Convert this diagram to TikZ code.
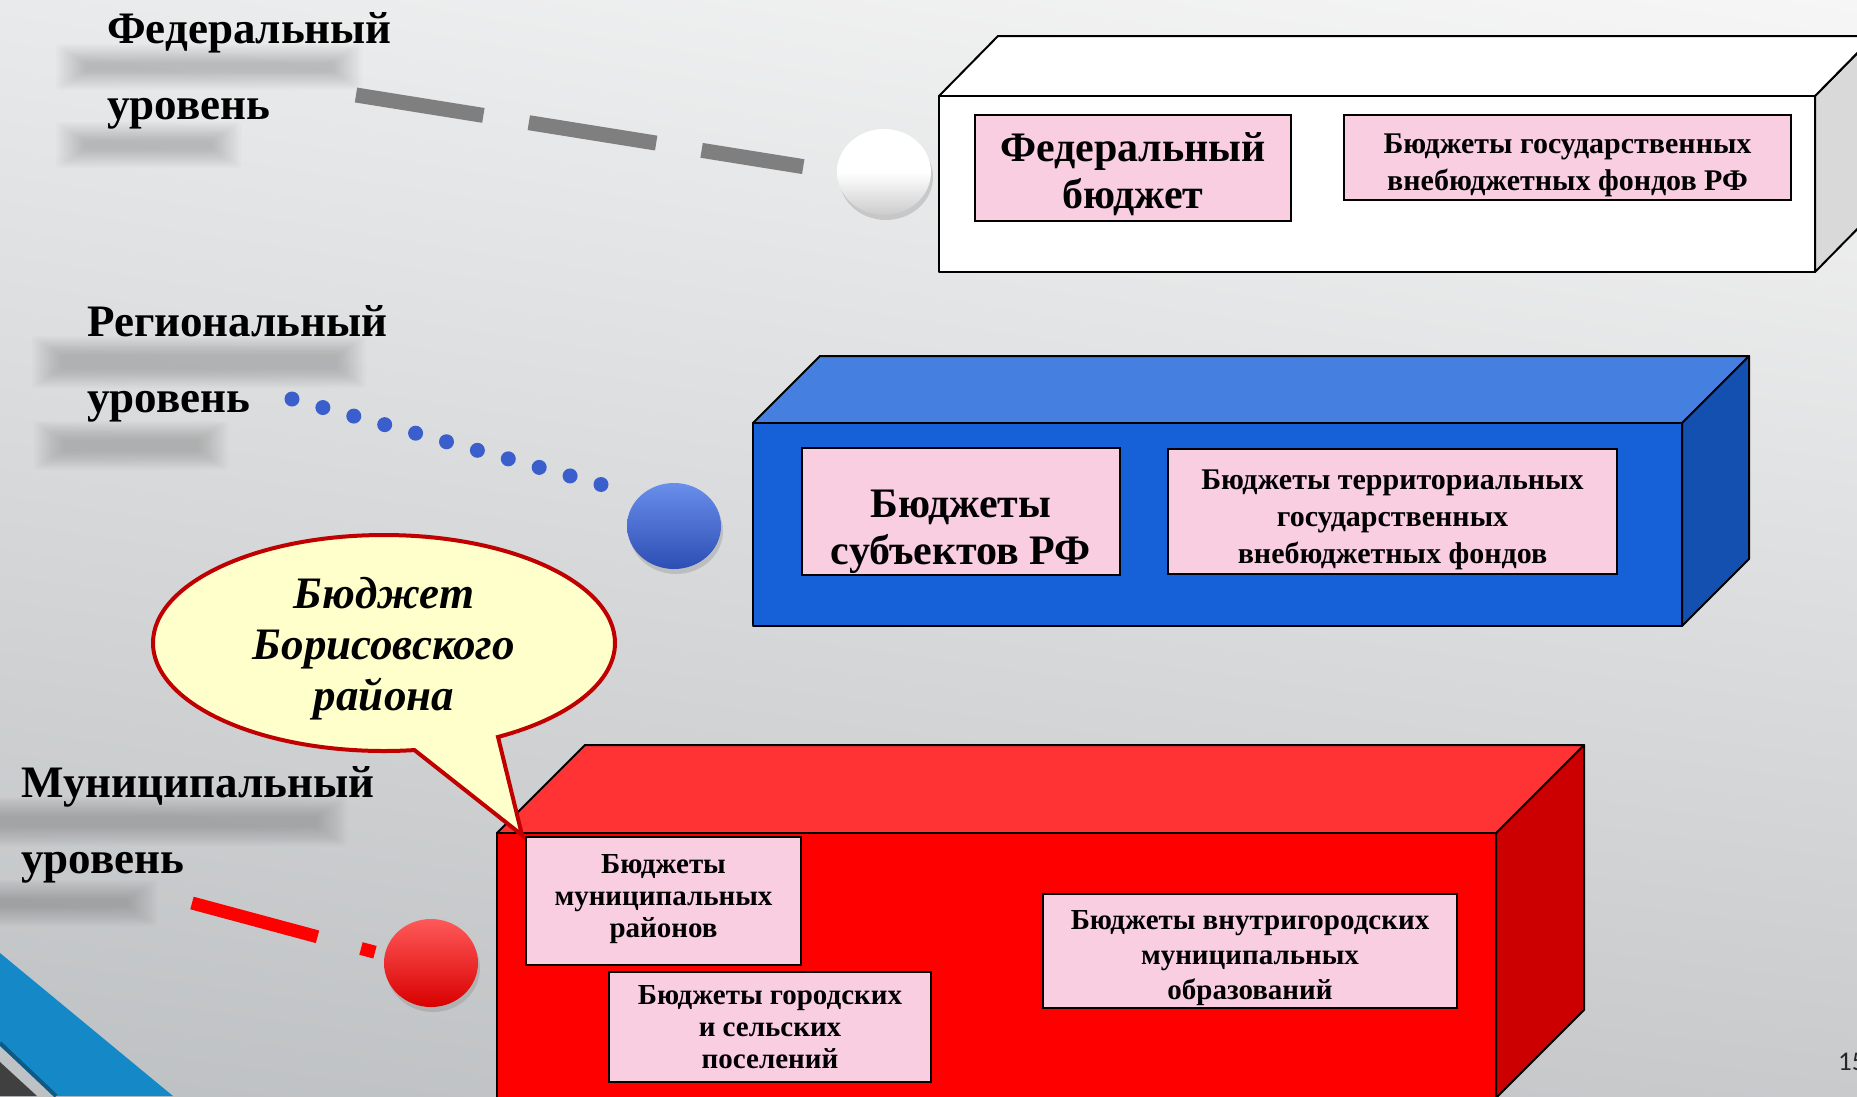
\documentclass[tikz,border=0pt]{standalone}
\usepackage{fontspec}
\setmainfont{Liberation Serif}
\newfontfamily\numfont{Carlito}
\usetikzlibrary{positioning}
\usetikzlibrary{calc}
\usetikzlibrary{shadows}
\usetikzlibrary{shadings}
\usetikzlibrary{shapes.callouts}
\usepgflibrary{shapes.geometric}

\definecolor{bgul}{RGB}{233,234,235}
\definecolor{bgur}{RGB}{246,246,246}
\definecolor{bgll}{RGB}{190,193,195}
\definecolor{bglr}{RGB}{200,202,204}
\definecolor{pinkbox}{RGB}{249,206,225}
\definecolor{fedside}{RGB}{217,217,217}
\definecolor{fedgray}{RGB}{127,127,127}
\definecolor{regfront}{RGB}{22,96,216}
\definecolor{regtop}{RGB}{69,128,224}
\definecolor{regside}{RGB}{20,80,176}
\definecolor{regdot}{RGB}{58,95,205}
\definecolor{muntop}{RGB}{255,51,51}
\definecolor{munside}{RGB}{204,0,0}
\definecolor{calloutred}{RGB}{192,0,0}
\definecolor{calloutfill}{RGB}{255,255,204}
\definecolor{cornerblue}{RGB}{21,137,200}
\definecolor{cornerdark}{RGB}{13,90,135}
\definecolor{cornergray}{RGB}{64,64,64}
\definecolor{pagegray}{RGB}{38,38,38}

\newcommand{\blurbar}[4]{%
  \foreach \k in {0,...,11} {
    \fill[black, opacity=0.017, rounded corners=3pt] ($(#1,#2)+(\k*2.6,\k*1.7)$) rectangle ($(#3,#4)+(-\k*2.6,-\k*1.7)$) ;
  }%
}

\begin{document}
\begin{tikzpicture}[x=1pt, y=-1pt,
      level/.style ={anchor=base west, align=left, inner sep=0pt, font=\bfseries\fontsize{45}{76}\selectfont},
      budget/.style ={rectangle, draw=black, line width=2pt, fill=pinkbox, inner sep=0pt},
      budgettext/.style ={align=center, inner sep=0pt},
      bigtext/.style ={budgettext, font=\bfseries\fontsize{42}{47}\selectfont},
      midtext/.style ={budgettext, font=\bfseries\fontsize{30}{37}\selectfont},
      smalltext/.style ={budgettext, font=\bfseries\fontsize{29}{32}\selectfont},
      boxface/.style ={draw=black, line width=2pt, line join=round},
      ball/.style ={ellipse, minimum width=94pt, minimum height=86pt, inner sep=0pt,
        drop shadow={opacity=0.3, shadow xshift=2pt, shadow yshift=-5pt}},
      fedline/.style ={draw=fedgray, line width=15pt, dash pattern=on 129pt off 46pt},
      regline/.style ={draw=regdot, line width=15pt, line cap=round, dash pattern=on 0pt off 32.06pt},
      munline/.style ={draw=red, line width=13pt, dash pattern=on 130pt off 45pt}
    ]
    \useasboundingbox (0,0) rectangle (1857,1096) ;
    \shade[upper left=bgul, upper right=bgur, lower left=bgll, lower right=bglr] (0,0) rectangle (1857,1096) ;

    % shadows of the level labels
    \blurbar{56}{44}{362}{90}
    \blurbar{56}{122}{241}{168}
    \blurbar{32}{336}{366}{388}
    \blurbar{34}{421}{228}{470}
    \blurbar{-34}{797}{347}{846}
    \blurbar{-34}{880}{157}{926}

    \node [level] (fedlabel) at (107,119) {Федеральный\\уровень} ;
    \node [level] (reglabel) at (87,412) {Региональный\\уровень} ;
    \node [level] (munlabel) at (21,873) {Муниципальный\\уровень} ;

    \node [ball, top color=white, bottom color=gray!40, middle color=white] (fedball) at (884,172) {} ;
    \node [ball, top color={rgb,255:red,105;green,142;blue,235}, bottom color={rgb,255:red,45;green,78;blue,180}] (regball) at (674,526) {} ;
    \node [ball, minimum height=88pt, top color=red!65!white, middle color=red, bottom color=red!85!black] (munball) at (431,963) {} ;

    \coordinate (fedlead) at (356,95) ;
    \coordinate (reglead) at (292,399) ;
    \coordinate (munlead) at (192,903) ;
    \draw [fedline, shorten >=34pt] (fedlead) -- (fedball.west) ;
    \draw [regline, shorten >=41pt] (reglead) -- (regball.north west) ;
    \draw [munline, shorten >=10pt] (munlead) -- (munball.170) ;

    % federal box
    \draw [boxface, fill=fedside] (1815,96) -- (1874,36) -- (1874,212) -- (1815,272) -- cycle ;
    \draw [boxface, fill=white] (939,96) -- (998,36) -- (1874,36) -- (1815,96) -- cycle ;
    \draw [boxface, fill=white] (939,96) rectangle (1815,272) ;
    \node [budget, minimum width=316pt, minimum height=106pt] (fedbudget) at (1133,168) {} ;
    \node [bigtext] (fedbudgettext) at ($(fedbudget)+(0,6)$) {Федеральный\\бюджет} ;
    \node [budget, minimum width=447pt, minimum height=85pt] (fedfunds) at (1567.5,157.5) {} ;
    \node [midtext] (fedfundstext) at ($(fedfunds)+(0,8)$) {Бюджеты государственных\\внебюджетных фондов РФ} ;

    % regional box
    \draw [boxface, fill=regside] (1682,423) -- (1749,356) -- (1749,559) -- (1682,626) -- cycle ;
    \draw [boxface, fill=regtop] (753,423) -- (820,356) -- (1749,356) -- (1682,423) -- cycle ;
    \draw [boxface, fill=regfront] (753,423) rectangle (1682,626) ;
    \node [budget, minimum width=318pt, minimum height=127pt] (regbudget) at (961,511.5) {} ;
    \node [bigtext] (regbudgettext) at ($(regbudget)+(0,20)$) {Бюджеты\\субъектов РФ} ;
    \node [budget, minimum width=449pt, minimum height=125pt, right=46pt of regbudget] (regfunds) {} ;
    \node [midtext] (regfundstext) at ($(regfunds)+(0,8)$) {Бюджеты территориальных\\государственных\\внебюджетных фондов} ;

    % municipal box
    \draw [boxface, fill=munside] (1496,833) -- (1584,745) -- (1584,1010) -- (1496,1098) -- cycle ;
    \draw [boxface, fill=muntop] (497,833) -- (585,745) -- (1584,745) -- (1496,833) -- cycle ;
    \draw [boxface, fill=red] (497,833) rectangle (1496,1098) ;
    \node [budget, minimum width=275pt, minimum height=128pt] (munraion) at (663.5,901) {} ;
    \node [smalltext] (munraiontext) at ($(munraion)+(0,-2)$) {Бюджеты\\муниципальных\\районов} ;
    \node [budget, minimum width=322pt, minimum height=110pt] (munposel) at (770,1027) {} ;
    \node [smalltext] (munposeltext) at (munposel) {Бюджеты городских\\и сельских\\поселений} ;
    \node [budget, minimum width=414pt, minimum height=114pt] (munvnutr) at (1250,951) {} ;
    \node [smalltext, font=\bfseries\fontsize{29}{35}\selectfont] (munvnutrtext) at ($(munvnutr)+(0,7)$) {Бюджеты внутригородских\\муниципальных\\образований} ;

    \coordinate (calloutpin) at (522,835) ;
    \node [ellipse callout, draw=calloutred, line width=4pt, fill=calloutfill, minimum width=462pt, minimum height=216pt,
      inner sep=0pt, callout absolute pointer={(calloutpin)}, callout pointer arc=22] (callout) at (384,643) {} ;
    \node [align=center, inner sep=0pt, font=\bfseries\itshape\fontsize{45}{51}\selectfont] (callouttext) at ($(callout.center)+(0,6)$) {Бюджет\\Борисовского\\района} ;

    % corner of the slide
    \fill [cornerblue] (0,953) -- (173,1096) -- (55,1096) -- (0,1046) -- cycle ;
    \draw [cornerdark, line width=4pt] (0,1043) -- (56,1096) ;
    \fill [cornergray] (0,1062) -- (37,1096) -- (0,1096) -- cycle ;

    \node [anchor=base west, inner sep=0pt, font=\numfont\fontsize{27}{27}\selectfont, text=pagegray] (pagenum) at (1838,1070) {15} ;
  \end{tikzpicture}
\end{document}
